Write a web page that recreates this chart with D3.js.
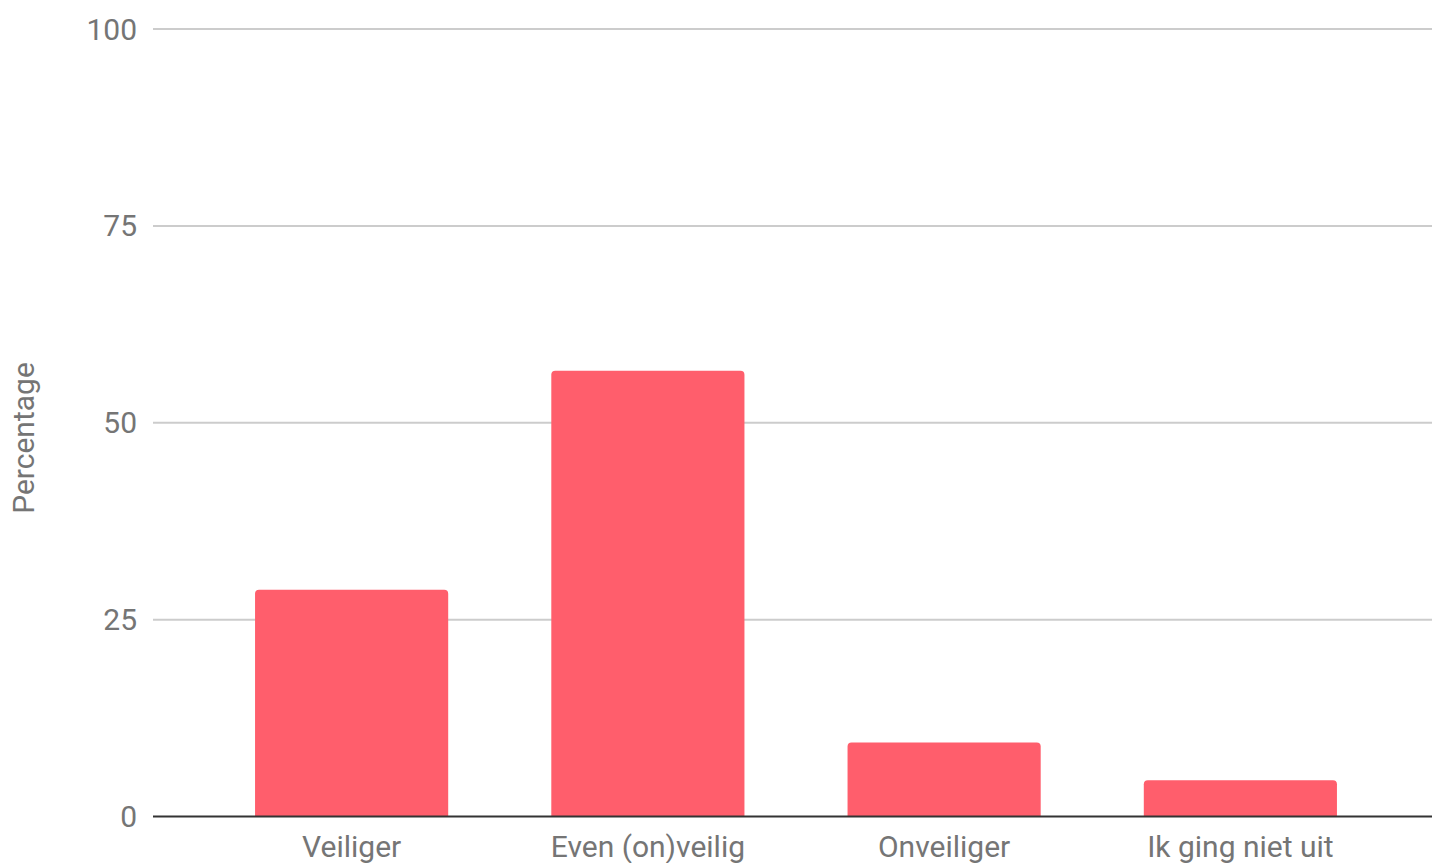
<!DOCTYPE html>
<html><head><meta charset="utf-8">
<script src="https://cdn.jsdelivr.net/npm/d3@7"></script>
<style>body{margin:0;background:#fff}svg{display:block}text{font-family:Roboto,sans-serif}</style>
</head><body><svg id="c" width="1432" height="863"></svg>
<script>
const categories = ["Veiliger", "Even (on)veilig", "Onveiliger", "Ik ging niet uit"];
const values = [28.8, 56.6, 9.4, 4.6];
const yTicks = [0, 25, 50, 75, 100];
const yTitle = "Percentage";

const svg = d3.select("#c");
const plotLeft = 153, plotRight = 1432, plotTop = 29, plotBottom = 816.5;
const y = d3.scaleLinear().domain([0, 100]).range([plotBottom, plotTop]);
const x = d3.scaleBand().domain(categories).range([203.5, 1388.5]).paddingInner(0.348).paddingOuter(0.174);

// gridlines
svg.append("g").selectAll("line").data(yTicks.filter(d => d !== 0)).join("line")
  .attr("x1", plotLeft).attr("x2", plotRight).attr("y1", d => y(d)).attr("y2", d => y(d))
  .attr("stroke", "#cccccc").attr("stroke-width", 2);

// y tick labels
svg.append("g").selectAll("text").data(yTicks).join("text")
  .attr("x", 137).attr("y", d => y(d)).attr("dy", "0.35em")
  .attr("text-anchor", "end").attr("fill", "#757575").attr("font-size", 30)
  .text(d => d);

// bars with rounded tops
const r = 4;
svg.append("g").selectAll("path").data(categories).join("path")
  .attr("fill", "#ff5e6c")
  .attr("d", (c, i) => {
    const x0 = x(c), w = x.bandwidth(), y0 = y(values[i]), yb = y(0);
    return `M${x0},${yb}V${y0 + r}Q${x0},${y0} ${x0 + r},${y0}H${x0 + w - r}Q${x0 + w},${y0} ${x0 + w},${y0 + r}V${yb}Z`;
  });

// baseline
svg.append("line").attr("x1", plotLeft).attr("x2", plotRight).attr("y1", y(0)).attr("y2", y(0))
  .attr("stroke", "#333333").attr("stroke-width", 2);

// x labels
svg.append("g").selectAll("text").data(categories).join("text")
  .attr("x", d => x(d) + x.bandwidth() / 2).attr("y", 857)
  .attr("text-anchor", "middle").attr("fill", "#757575").attr("font-size", 30)
  .text(d => d);

// y title
svg.append("text").attr("transform", `translate(34,${(363 + 513) / 2}) rotate(-90)`)
  .attr("text-anchor", "middle").attr("fill", "#757575").attr("font-size", 30)
  .text(yTitle);
</script></body></html>
